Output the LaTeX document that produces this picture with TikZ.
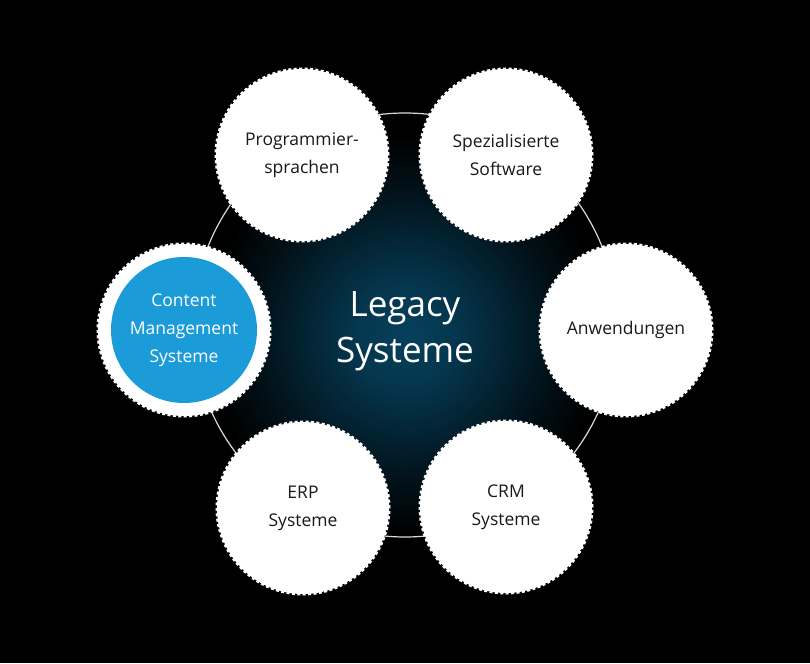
\documentclass[tikz,border=0pt]{standalone}
\usepackage{fontspec}
\setmainfont{Open Sans}
\definecolor{glowc}{RGB}{6,64,92}
\definecolor{cmsblue}{RGB}{27,155,215}
\definecolor{txtc}{RGB}{25,25,25}
\pgfdeclareradialshading{glow}{\pgfpoint{0bp}{0bp}}{color(0bp)=(glowc); color(5bp)=(glowc!85!black); color(10bp)=(glowc!55!black); color(15bp)=(glowc!25!black); color(20bp)=(black); color(50bp)=(black)}
\tikzset{
  bub/.style={circle, minimum size=172pt, inner sep=0pt, fill=white, draw=white,
    line width=3pt, dash pattern=on 3pt off 2.4pt, text=txtc, align=center,
    font=\fontsize{17.5}{28}\selectfont},
  bluedisk/.style={circle, minimum size=146pt, inner sep=0pt, fill=cmsblue,
    text=white, align=center, font=\fontsize{17.5}{28}\selectfont},
  ringline/.style={draw=white!85!black, line width=1.2pt},
  title/.style={text=white, align=center, font=\fontsize{35}{46}\selectfont}
}
\begin{document}
\begin{tikzpicture}[x=1pt,y=-1pt]
\fill[black] (0,0) rectangle (810,663);
\useasboundingbox (0,0) rectangle (810,663);
\coordinate (ctr) at (405,325);
\coordinate (gc) at (405,335);
\fill[shading=glow] (gc) circle (250);
\draw[ringline] (ctr) circle (212);
\node[bub] (prog) at (302,155) {Programmier-\\sprachen};
\node[bub] (spez) at (506,155) {Spezialisierte\\Software};
\node[bub] (anw) at (626,330) {Anwendungen};
\node[bub] (crm) at (506,507) {CRM\\Systeme};
\node[bub] (erp) at (303,508) {ERP\\Systeme};
\node[bub] (cmsring) at (184,330) {};
\node[bluedisk] (cms) at (cmsring.center) {Content\\Management\\Systeme};
\node[title] (legacy) at (405,331) {Legacy\\Systeme};
\end{tikzpicture}
\end{document}
